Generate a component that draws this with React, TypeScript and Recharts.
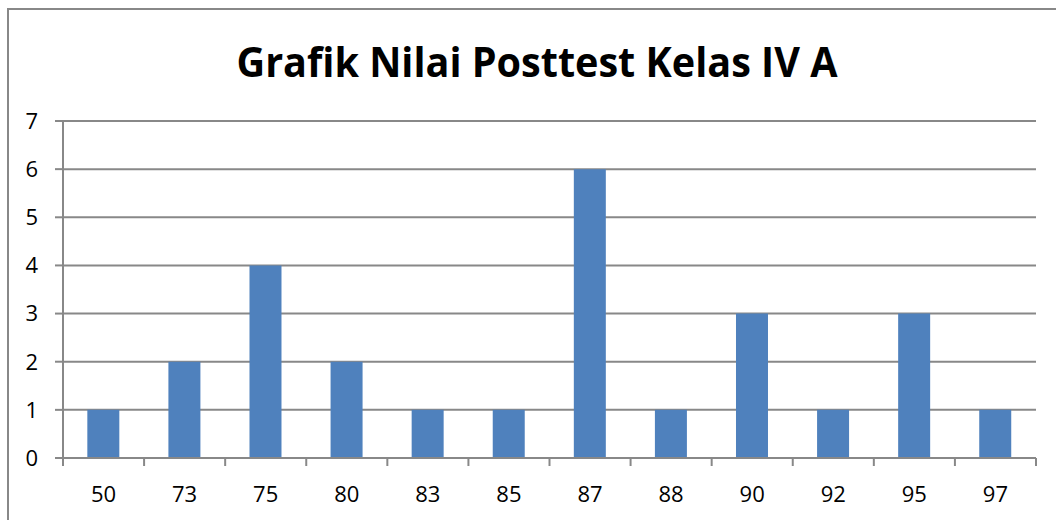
import { BarChart, Bar, XAxis, YAxis, CartesianGrid } from "recharts"

const scores = ["50", "73", "75", "80", "83", "85", "87", "88", "90", "92", "95", "97"]
const counts = [1, 2, 4, 2, 1, 1, 6, 1, 3, 1, 3, 1]
const yTicks = [0, 1, 2, 3, 4, 5, 6, 7]

const title = "Grafik Nilai Posttest Kelas IV A"

const data = scores.map((s, i) => ({ score: s, count: counts[i] }))

const GRID = "#888888"
const FONT = "'Open Sans', 'Liberation Sans', sans-serif"

// category ticks sit between bars, like the spreadsheet original
function XTick(props: any) {
  const { x, y, payload, index, visibleTicksCount, width } = props
  const step = width / visibleTicksCount
  const last = index === visibleTicksCount - 1
  const top = y - 28
  return (
    <g>
      <line x1={x - step / 2} x2={x - step / 2} y1={top} y2={top + 8} stroke={GRID} strokeWidth={2} />
      {last && <line x1={x + step / 2} x2={x + step / 2} y1={top} y2={top + 8} stroke={GRID} strokeWidth={2} />}
      <text x={x} y={y} dy="0.71em" textAnchor="middle" fontSize={22} fill="#000" fontFamily={FONT}>
        {payload.value}
      </text>
    </g>
  )
}

export default function App() {
  return (
    <div style={{ position: "absolute", left: 0, top: 0, width: 1056, height: 520, overflow: "hidden", background: "#fff" }}>
      <div
        style={{
          position: "absolute",
          left: 7,
          top: 8,
          width: 1200,
          height: 700,
          border: `2px solid ${GRID}`,
        }}
      />
      <svg width={1056} height={520} style={{ position: "absolute", left: 0, top: 0 }}>
        <text
          x={537}
          y={77}
          textAnchor="middle"
          fontSize={42}
          fontWeight="bold"
          fontFamily={FONT}
          textLength={601}
          lengthAdjust="spacingAndGlyphs"
          fill="#000"
        >
          {title}
        </text>
      </svg>
      <div style={{ position: "absolute", left: 0, top: 0 }}>
        <BarChart
          width={1056}
          height={520}
          data={data}
          margin={{ top: 121, right: 20, bottom: 0, left: 0 }}
          barCategoryGap="30%"
        >
          <CartesianGrid vertical={false} stroke={GRID} strokeWidth={2} strokeDasharray="" />
          <XAxis
            dataKey="score"
            tickLine={false}
            axisLine={{ stroke: GRID, strokeWidth: 2 }}
            tickSize={8}
            tickMargin={20}
            height={62}
            interval={0}
            tick={<XTick />}
          />
          <YAxis
            domain={[0, 7]}
            ticks={yTicks}
            width={63}
            tickSize={8}
            tickMargin={17}
            axisLine={{ stroke: GRID, strokeWidth: 2 }}
            tickLine={{ stroke: GRID, strokeWidth: 2 }}
            tick={{ fontSize: 22, fill: "#000", fontFamily: FONT }}
            interval={0}
          />
          <Bar dataKey="count" fill="#4F81BD" isAnimationActive={false} />
        </BarChart>
      </div>
    </div>
  )
}
